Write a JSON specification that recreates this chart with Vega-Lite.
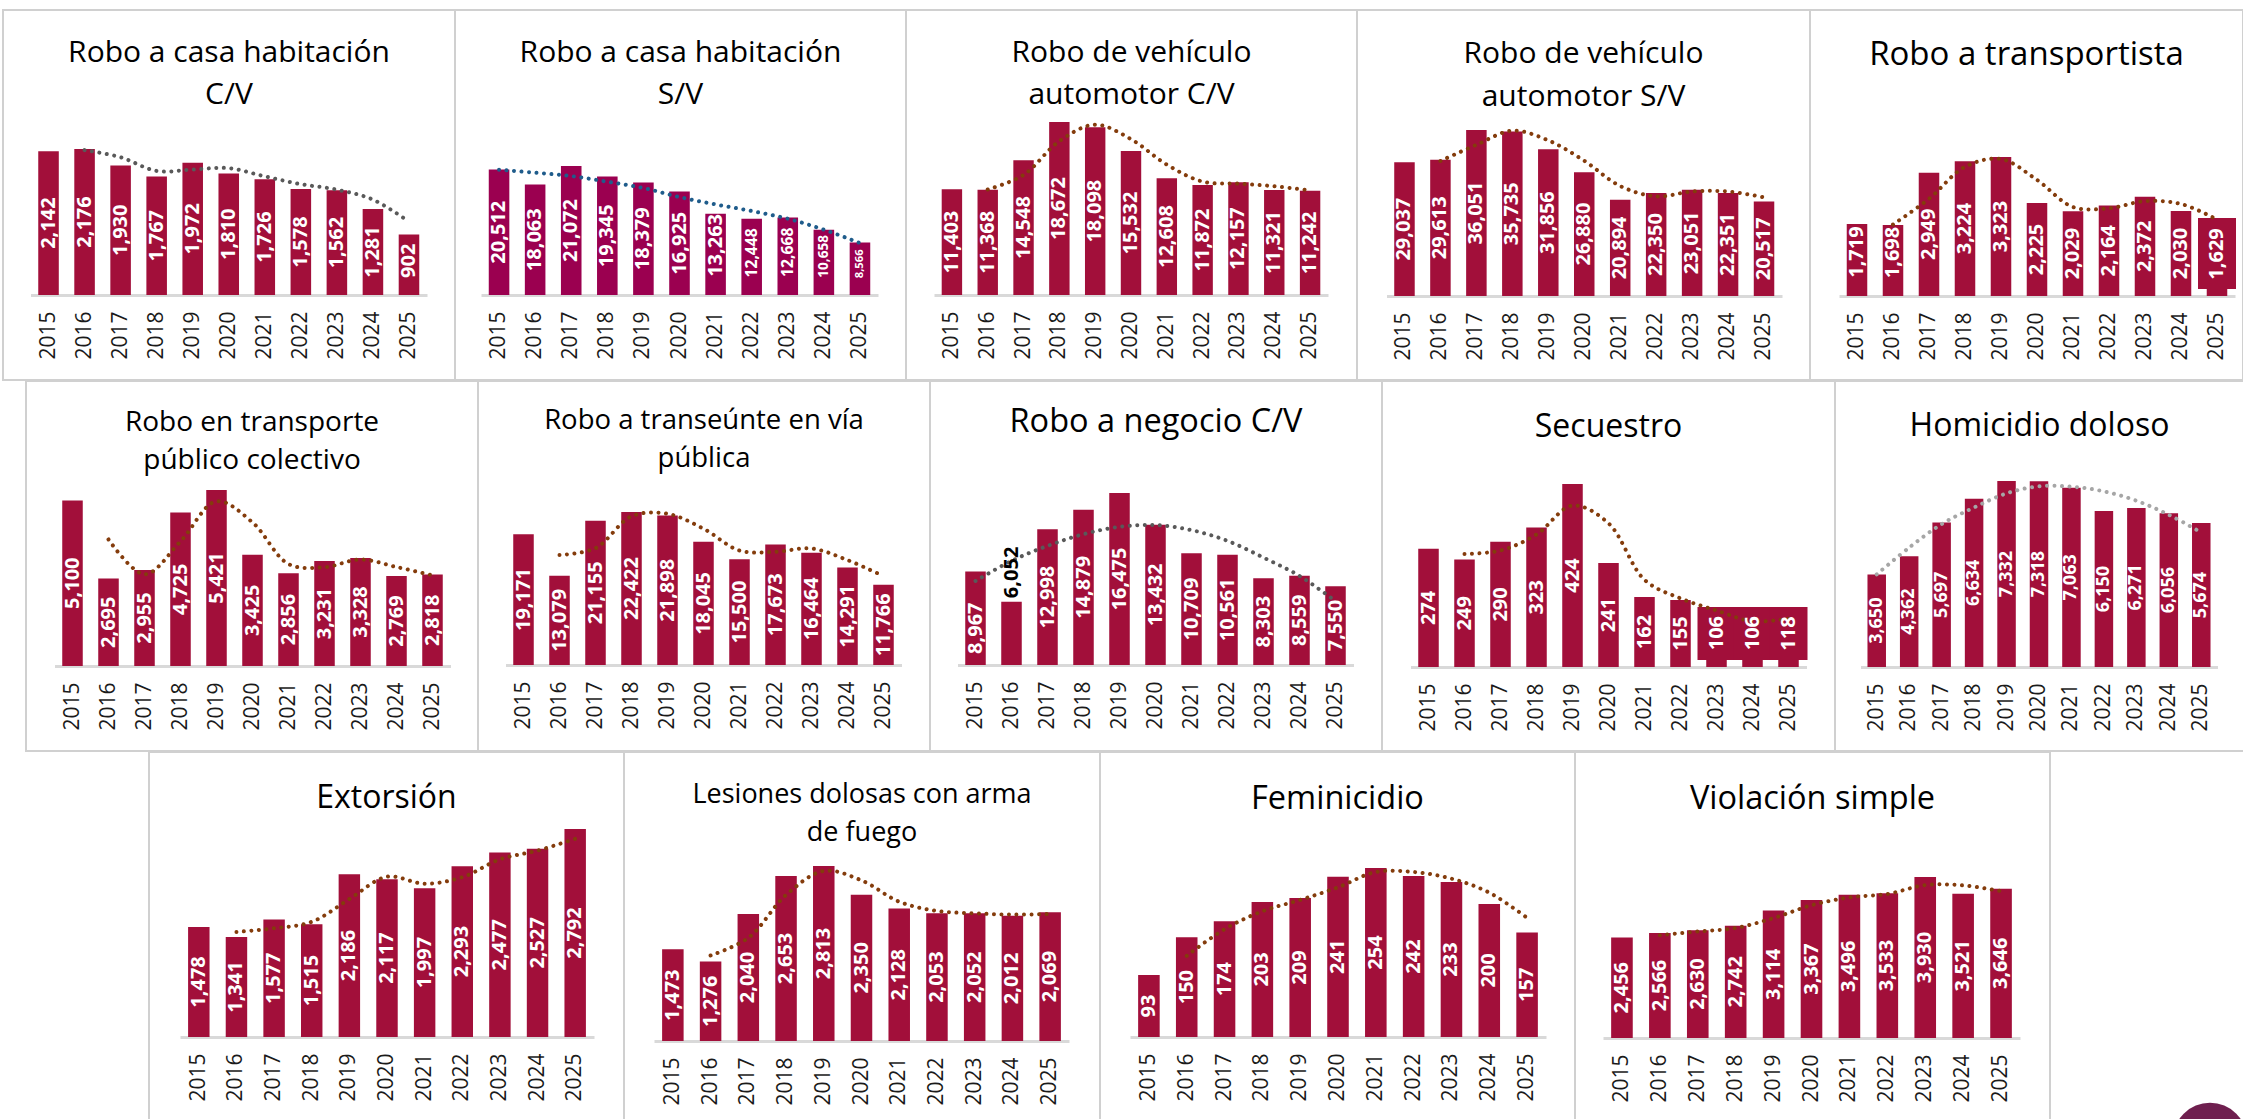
{"$schema":"https://vega.github.io/schema/vega-lite/v6.json","padding":{"left":2,"top":9,"right":0,"bottom":0},"background":"white","spacing":-2,
"config":{"view":{"stroke":"#d0d0d0","strokeWidth":2},"bar":{"color":"#a20f3a"},"line":{"color":"#843c0c","strokeWidth":4,"strokeDash":[0.01,7.5],"strokeCap":"round","interpolate":"catmull-rom"},"text":{"font":"Open Sans","fontWeight":"bold","fontSize":20,"color":"white","angle":270,"align":"center","baseline":"middle"},"title":{"font":"Open Sans","fontWeight":"normal","color":"black","baseline":"alphabetic","anchor":"middle","frame":"group"},"axis":{"title":null,"grid":false,"ticks":false,"domainColor":"#d9d9d9","domainWidth":3,"labelAngle":-90,"labelFont":"Open Sans","labelFontSize":21,"labelColor":"#1a1a1a","labelPadding":16,"labelOverlap":false}},
"datasets":{
"d1":[{"year":2015,"v":2142},{"year":2016,"v":2176,"t":2159},{"year":2017,"v":1930,"t":2053},{"year":2018,"v":1767,"t":1849},{"year":2019,"v":1972,"t":1870},{"year":2020,"v":1810,"t":1891},{"year":2021,"v":1726,"t":1768},{"year":2022,"v":1578,"t":1652},{"year":2023,"v":1562,"t":1570},{"year":2024,"v":1281,"t":1422},{"year":2025,"v":902,"t":1092}],
"d2":[{"year":2015,"v":20512,"t":20470},{"year":2016,"v":18063,"t":19980},{"year":2017,"v":21072,"t":19430},{"year":2018,"v":19345,"t":18500},{"year":2019,"v":18379,"t":17470},{"year":2020,"v":16925,"t":16000},{"year":2021,"v":13263,"t":14800},{"year":2022,"v":12448,"t":13720},{"year":2023,"v":12668,"t":12460},{"year":2024,"v":10658,"t":10670},{"year":2025,"v":8566,"t":8490}],
"d3":[{"year":2015,"v":11403},{"year":2016,"v":11368,"t":11386},{"year":2017,"v":14548,"t":12958},{"year":2018,"v":18672,"t":16610},{"year":2019,"v":18098,"t":18385},{"year":2020,"v":15532,"t":16815},{"year":2021,"v":12608,"t":14070},{"year":2022,"v":11872,"t":12240},{"year":2023,"v":12157,"t":12015},{"year":2024,"v":11321,"t":11739},{"year":2025,"v":11242,"t":11282}],
"d4":[{"year":2015,"v":29037},{"year":2016,"v":29613,"t":29325},{"year":2017,"v":36051,"t":32832},{"year":2018,"v":35735,"t":35893},{"year":2019,"v":31856,"t":33796},{"year":2020,"v":26880,"t":29368},{"year":2021,"v":20894,"t":23887},{"year":2022,"v":22350,"t":21622},{"year":2023,"v":23051,"t":22701},{"year":2024,"v":22351,"t":22701},{"year":2025,"v":20517,"t":21434}],
"d5":[{"year":2015,"v":1719},{"year":2016,"v":1698,"t":1709},{"year":2017,"v":2949,"t":2324},{"year":2018,"v":3224,"t":3087},{"year":2019,"v":3323,"t":3274},{"year":2020,"v":2225,"t":2774},{"year":2021,"v":2029,"t":2127},{"year":2022,"v":2164,"t":2097},{"year":2023,"v":2372,"t":2268},{"year":2024,"v":2030,"t":2201},{"year":2025,"v":1629,"t":1830}],
"d6":[{"year":2015,"v":5100},{"year":2016,"v":2695,"t":3898},{"year":2017,"v":2955,"t":2825},{"year":2018,"v":4725,"t":3840},{"year":2019,"v":5421,"t":5073},{"year":2020,"v":3425,"t":4423},{"year":2021,"v":2856,"t":3141},{"year":2022,"v":3231,"t":3044},{"year":2023,"v":3328,"t":3280},{"year":2024,"v":2769,"t":3049},{"year":2025,"v":2818,"t":2794}],
"d7":[{"year":2015,"v":19171},{"year":2016,"v":13079,"t":16125},{"year":2017,"v":21155,"t":17117},{"year":2018,"v":22422,"t":21789},{"year":2019,"v":21898,"t":22160},{"year":2020,"v":18045,"t":19972},{"year":2021,"v":15500,"t":16773},{"year":2022,"v":17673,"t":16587},{"year":2023,"v":16464,"t":17069},{"year":2024,"v":14291,"t":15378},{"year":2025,"v":11766,"t":13029}],
"d8":[{"year":2015,"v":8967,"t":8045},{"year":2016,"v":6052,"t":9970},{"year":2017,"v":12998,"t":11410},{"year":2018,"v":14879,"t":12530},{"year":2019,"v":16475,"t":13240},{"year":2020,"v":13432,"t":13400},{"year":2021,"v":10709,"t":12920},{"year":2022,"v":10561,"t":11890},{"year":2023,"v":8303,"t":10290},{"year":2024,"v":8559,"t":8530},{"year":2025,"v":7550,"t":6120}],
"d9":[{"year":2015,"v":274},{"year":2016,"v":249,"t":262},{"year":2017,"v":290,"t":270},{"year":2018,"v":323,"t":307},{"year":2019,"v":424,"t":374},{"year":2020,"v":241,"t":333},{"year":2021,"v":162,"t":202},{"year":2022,"v":155,"t":159},{"year":2023,"v":106,"t":131},{"year":2024,"v":106,"t":106},{"year":2025,"v":118,"t":112}],
"d10":[{"year":2015,"v":3650,"t":3653},{"year":2016,"v":4362,"t":4708},{"year":2017,"v":5697,"t":5632},{"year":2018,"v":6634,"t":6290},{"year":2019,"v":7332,"t":6845},{"year":2020,"v":7318,"t":7122},{"year":2021,"v":7063,"t":7108},{"year":2022,"v":6150,"t":6924},{"year":2023,"v":6271,"t":6555},{"year":2024,"v":6056,"t":6001},{"year":2025,"v":5674,"t":5302}],
"d11":[{"year":2015,"v":1478},{"year":2016,"v":1341,"t":1410},{"year":2017,"v":1577,"t":1459},{"year":2018,"v":1515,"t":1546},{"year":2019,"v":2186,"t":1851},{"year":2020,"v":2117,"t":2152},{"year":2021,"v":1997,"t":2057},{"year":2022,"v":2293,"t":2145},{"year":2023,"v":2477,"t":2385},{"year":2024,"v":2527,"t":2502},{"year":2025,"v":2792,"t":2660}],
"d12":[{"year":2015,"v":1473},{"year":2016,"v":1276,"t":1375},{"year":2017,"v":2040,"t":1658},{"year":2018,"v":2653,"t":2347},{"year":2019,"v":2813,"t":2733},{"year":2020,"v":2350,"t":2582},{"year":2021,"v":2128,"t":2239},{"year":2022,"v":2053,"t":2091},{"year":2023,"v":2052,"t":2053},{"year":2024,"v":2012,"t":2032},{"year":2025,"v":2069,"t":2041}],
"d13":[{"year":2015,"v":93},{"year":2016,"v":150,"t":122},{"year":2017,"v":174,"t":162},{"year":2018,"v":203,"t":189},{"year":2019,"v":209,"t":206},{"year":2020,"v":241,"t":225},{"year":2021,"v":254,"t":248},{"year":2022,"v":242,"t":248},{"year":2023,"v":233,"t":238},{"year":2024,"v":200,"t":217},{"year":2025,"v":157,"t":179}],
"d14":[{"year":2015,"v":2456},{"year":2016,"v":2566,"t":2511},{"year":2017,"v":2630,"t":2598},{"year":2018,"v":2742,"t":2686},{"year":2019,"v":3114,"t":2928},{"year":2020,"v":3367,"t":3241},{"year":2021,"v":3496,"t":3432},{"year":2022,"v":3533,"t":3515},{"year":2023,"v":3930,"t":3732},{"year":2024,"v":3521,"t":3726},{"year":2025,"v":3646,"t":3584}]
},
"vconcat":[
{"spacing":0,"bounds":"flush","hconcat":[
{"width":452,"height":370,"title":{"text":["Robo a casa habitación","C/V"],"fontSize":30,"lineHeight":42,"offset":-100},"data":{"name":"d1"},"transform":[{"calculate":"datum.v/2","as":"m"}],"encoding":{"x":{"field":"year","type":"ordinal","scale":{"range":[27.5,424],"paddingInner":0.43,"paddingOuter":0.215},"axis":{"offset":-85}},"y":{"field":"v","type":"quantitative","scale":{"domain":[0,2176],"range":[285,139]},"axis":null}},"layer":[{"mark":"bar"},{"mark":{"type":"line","color":"#595959"},"encoding":{"y":{"field":"t","type":"quantitative"}}},{"transform":[{"filter":"datum.year<2025"}],"mark":"text","encoding":{"y":{"field":"m","type":"quantitative"},"text":{"field":"v","format":","}}},{"transform":[{"filter":"datum.year==2025"}],"mark":{"type":"text","dx":4},"encoding":{"y":{"field":"m","type":"quantitative"},"text":{"field":"v","format":","}}}]},
{"width":451,"height":370,"title":{"text":["Robo a casa habitación","S/V"],"fontSize":30,"lineHeight":42,"offset":-100},"data":{"name":"d2"},"transform":[{"calculate":"datum.v/2","as":"m"}],"encoding":{"x":{"field":"year","type":"ordinal","scale":{"range":[26,423],"paddingInner":0.43,"paddingOuter":0.215},"axis":{"offset":-85}},"y":{"field":"v","type":"quantitative","scale":{"domain":[0,21072],"range":[285,156]},"axis":null}},"layer":[{"mark":{"type":"bar","color":"#9b0050"}},{"mark":{"type":"line","color":"#1f5c8b"},"encoding":{"y":{"field":"t","type":"quantitative"}}},{"transform":[{"filter":"datum.year<2021"}],"mark":"text","encoding":{"y":{"field":"m","type":"quantitative"},"text":{"field":"v","format":","}}},{"transform":[{"filter":"datum.year==2021"}],"mark":{"type":"text","dx":9},"encoding":{"y":{"field":"m","type":"quantitative"},"text":{"field":"v","format":","}}},{"transform":[{"filter":"datum.year==2022||datum.year==2023"}],"mark":{"type":"text","dx":4,"fontSize":15.7},"encoding":{"y":{"field":"m","type":"quantitative"},"text":{"field":"v","format":","}}},{"transform":[{"filter":"datum.year==2024"}],"mark":{"type":"text","dx":6,"fontSize":13.6},"encoding":{"y":{"field":"m","type":"quantitative"},"text":{"field":"v","format":","}}},{"transform":[{"filter":"datum.year==2025"}],"mark":{"type":"text","dx":5,"fontSize":11.3},"encoding":{"y":{"field":"m","type":"quantitative"},"text":{"field":"v","format":","}}}]},
{"width":451,"height":370,"title":{"text":["Robo de vehículo","automotor C/V"],"fontSize":30,"lineHeight":42,"offset":-100},"data":{"name":"d3"},"transform":[{"calculate":"datum.v/2","as":"m"}],"encoding":{"x":{"field":"year","type":"ordinal","scale":{"range":[28,422],"paddingInner":0.43,"paddingOuter":0.215},"axis":{"offset":-85}},"y":{"field":"v","type":"quantitative","scale":{"domain":[0,18672],"range":[285,112]},"axis":null}},"layer":[{"mark":"bar"},{"mark":"line","encoding":{"y":{"field":"t","type":"quantitative"}}},{"mark":"text","encoding":{"y":{"field":"m","type":"quantitative"},"text":{"field":"v","format":","}}}]},
{"width":453,"height":370,"title":{"text":["Robo de vehículo","automotor S/V"],"fontSize":30,"lineHeight":43,"offset":-102},"data":{"name":"d4"},"transform":[{"calculate":"datum.v/2","as":"m"}],"encoding":{"x":{"field":"year","type":"ordinal","scale":{"range":[29.5,425],"paddingInner":0.43,"paddingOuter":0.215},"axis":{"offset":-84}},"y":{"field":"v","type":"quantitative","scale":{"domain":[0,36051],"range":[286,120]},"axis":null}},"layer":[{"mark":"bar"},{"mark":"line","encoding":{"y":{"field":"t","type":"quantitative"}}},{"mark":"text","encoding":{"y":{"field":"m","type":"quantitative"},"text":{"field":"v","format":","}}}]},
{"width":433,"height":370,"title":{"text":"Robo a transportista","fontSize":33,"offset":-62},"data":{"name":"d5"},"transform":[{"calculate":"datum.v/2","as":"m"}],"encoding":{"x":{"field":"year","type":"ordinal","scale":{"range":[29,425],"paddingInner":0.43,"paddingOuter":0.215},"axis":{"offset":-84}},"y":{"field":"v","type":"quantitative","scale":{"domain":[0,3323],"range":[286,147]},"axis":null}},"layer":[{"mark":"bar"},{"data":{"values":[{"year":2025,"lo":167,"hi":1865}]},"mark":{"type":"bar","size":38},"encoding":{"y":{"field":"lo","type":"quantitative"},"y2":{"field":"hi"}}},{"mark":"line","encoding":{"y":{"field":"t","type":"quantitative"}}},{"transform":[{"filter":"datum.year>2016&&datum.year<2025"}],"mark":"text","encoding":{"y":{"field":"m","type":"quantitative"},"text":{"field":"v","format":","}}},{"transform":[{"filter":"datum.year<=2016||datum.year==2025"}],"mark":{"type":"text","dx":8},"encoding":{"y":{"field":"m","type":"quantitative"},"text":{"field":"v","format":","}}}]}
]},
{"spacing":0,"bounds":"flush","hconcat":[
{"width":22.5,"height":370,"view":{"stroke":null},"data":{"values":[]},"mark":"rect","encoding":{}},
{"width":452,"height":370,"title":{"text":["Robo en transporte","público colectivo"],"fontSize":28,"lineHeight":38,"offset":-94},"data":{"name":"d6"},"transform":[{"calculate":"datum.v/2","as":"m"}],"encoding":{"x":{"field":"year","type":"ordinal","scale":{"range":[28.5,424.5],"paddingInner":0.43,"paddingOuter":0.215},"axis":{"offset":-85}},"y":{"field":"v","type":"quantitative","scale":{"domain":[0,5421],"range":[285,109]},"axis":null}},"layer":[{"mark":"bar"},{"mark":"line","encoding":{"y":{"field":"t","type":"quantitative"}}},{"mark":"text","encoding":{"y":{"field":"m","type":"quantitative"},"text":{"field":"v","format":","}}}]},
{"width":452,"height":370,"title":{"text":["Robo a transeúnte en vía","pública"],"fontSize":27.5,"lineHeight":38,"offset":-91},"data":{"name":"d7"},"transform":[{"calculate":"datum.v/2","as":"m"}],"encoding":{"x":{"field":"year","type":"ordinal","scale":{"range":[27.5,423.5],"paddingInner":0.43,"paddingOuter":0.215},"axis":{"offset":-86}},"y":{"field":"v","type":"quantitative","scale":{"domain":[0,22422],"range":[284,131]},"axis":null}},"layer":[{"mark":"bar"},{"mark":"line","encoding":{"y":{"field":"t","type":"quantitative"}}},{"mark":"text","encoding":{"y":{"field":"m","type":"quantitative"},"text":{"field":"v","format":","}}}]},
{"width":452,"height":370,"title":{"text":"Robo a negocio C/V","fontSize":32.5,"offset":-57},"data":{"name":"d8"},"transform":[{"calculate":"datum.v/2","as":"m"}],"encoding":{"x":{"field":"year","type":"ordinal","scale":{"range":[27.5,423.5],"paddingInner":0.43,"paddingOuter":0.215},"axis":{"offset":-86}},"y":{"field":"v","type":"quantitative","scale":{"domain":[0,16475],"range":[284,112]},"axis":null}},"layer":[{"mark":"bar"},{"mark":{"type":"line","color":"#595959"},"encoding":{"y":{"field":"t","type":"quantitative"}}},{"transform":[{"filter":"datum.year>2016"}],"mark":"text","encoding":{"y":{"field":"m","type":"quantitative"},"text":{"field":"v","format":","}}},{"transform":[{"filter":"datum.year==2015"}],"mark":{"type":"text","dx":-10},"encoding":{"y":{"field":"m","type":"quantitative"},"text":{"field":"v","format":","}}},{"transform":[{"filter":"datum.year==2016"}],"mark":{"type":"text","dx":61,"color":"black"},"encoding":{"y":{"field":"m","type":"quantitative"},"text":{"field":"v","format":","}}}]},
{"width":453,"height":370,"title":{"text":"Secuestro","fontSize":32,"offset":-63},"data":{"name":"d9"},"transform":[{"calculate":"datum.v/2","as":"m"}],"encoding":{"x":{"field":"year","type":"ordinal","scale":{"range":[28.5,424.5],"paddingInner":0.43,"paddingOuter":0.215},"axis":{"offset":-84}},"y":{"field":"v","type":"quantitative","scale":{"domain":[0,424],"range":[286,103]},"axis":null}},"layer":[{"mark":"bar"},{"data":{"values":[{"year":2023,"lo":16,"hi":139},{"year":2024,"lo":16,"hi":139},{"year":2025,"lo":16,"hi":139}]},"mark":{"type":"bar","size":38},"encoding":{"y":{"field":"lo","type":"quantitative"},"y2":{"field":"hi"}}},{"mark":"line","encoding":{"y":{"field":"t","type":"quantitative"}}},{"transform":[{"filter":"datum.year<2023"}],"mark":"text","encoding":{"y":{"field":"m","type":"quantitative"},"text":{"field":"v","format":","}}},{"transform":[{"filter":"datum.year==2023||datum.year==2024"}],"mark":{"type":"text","dx":11},"encoding":{"y":{"field":"m","type":"quantitative"},"text":{"field":"v","format":","}}},{"transform":[{"filter":"datum.year==2025"}],"mark":{"type":"text","dx":8},"encoding":{"y":{"field":"m","type":"quantitative"},"text":{"field":"v","format":","}}}]},
{"width":409,"height":370,"title":{"text":"Homicidio doloso","fontSize":32,"offset":-62},"data":{"name":"d10"},"transform":[{"calculate":"datum.v/2","as":"m"}],"encoding":{"x":{"field":"year","type":"ordinal","scale":{"range":[25.5,382.5],"paddingInner":0.43,"paddingOuter":0.215},"axis":{"offset":-84}},"y":{"field":"v","type":"quantitative","scale":{"domain":[0,7332],"range":[286,100]},"axis":null}},"layer":[{"mark":"bar"},{"mark":{"type":"line","color":"#a6a6a6"},"encoding":{"y":{"field":"t","type":"quantitative"}}},{"mark":{"type":"text","fontSize":18},"encoding":{"y":{"field":"m","type":"quantitative"},"text":{"field":"v","format":","}}}]}
]},
{"spacing":0,"bounds":"flush","hconcat":[
{"width":146,"height":370,"view":{"stroke":null},"data":{"values":[]},"mark":"rect","encoding":{}},
{"width":475,"height":370,"title":{"text":"Extorsión","fontSize":32,"offset":-63},"data":{"name":"d11"},"transform":[{"calculate":"datum.v/2","as":"m"}],"encoding":{"x":{"field":"year","type":"ordinal","scale":{"range":[31,445],"paddingInner":0.43,"paddingOuter":0.215},"axis":{"offset":-85}},"y":{"field":"v","type":"quantitative","scale":{"domain":[0,2792],"range":[285,77]},"axis":null}},"layer":[{"mark":"bar"},{"mark":"line","encoding":{"y":{"field":"t","type":"quantitative"}}},{"mark":"text","encoding":{"y":{"field":"m","type":"quantitative"},"text":{"field":"v","format":","}}}]},
{"width":476,"height":370,"title":{"text":["Lesiones dolosas con arma","de fuego"],"fontSize":27,"lineHeight":38,"offset":-95},"data":{"name":"d12"},"transform":[{"calculate":"datum.v/2","as":"m"}],"encoding":{"x":{"field":"year","type":"ordinal","scale":{"range":[30,445],"paddingInner":0.43,"paddingOuter":0.215},"axis":{"offset":-81}},"y":{"field":"v","type":"quantitative","scale":{"domain":[0,2813],"range":[289,114]},"axis":null}},"layer":[{"mark":"bar"},{"mark":"line","encoding":{"y":{"field":"t","type":"quantitative"}}},{"mark":"text","encoding":{"y":{"field":"m","type":"quantitative"},"text":{"field":"v","format":","}}}]},
{"width":475,"height":370,"title":{"text":"Feminicidio","fontSize":32.5,"offset":-63},"data":{"name":"d13"},"transform":[{"calculate":"datum.v/2","as":"m"}],"encoding":{"x":{"field":"year","type":"ordinal","scale":{"range":[30,446],"paddingInner":0.43,"paddingOuter":0.215},"axis":{"offset":-85}},"y":{"field":"v","type":"quantitative","scale":{"domain":[0,254],"range":[285,116]},"axis":null}},"layer":[{"mark":"bar"},{"mark":"line","encoding":{"y":{"field":"t","type":"quantitative"}}},{"mark":"text","encoding":{"y":{"field":"m","type":"quantitative"},"text":{"field":"v","format":","}}}]},
{"width":475,"height":370,"title":{"text":"Violación simple","fontSize":32.5,"offset":-63},"data":{"name":"d14"},"transform":[{"calculate":"datum.v/2","as":"m"}],"encoding":{"x":{"field":"year","type":"ordinal","scale":{"range":[28,445],"paddingInner":0.43,"paddingOuter":0.215},"axis":{"offset":-84}},"y":{"field":"v","type":"quantitative","scale":{"domain":[0,3930],"range":[286,125]},"axis":null}},"layer":[{"mark":"bar"},{"mark":"line","encoding":{"y":{"field":"t","type":"quantitative"}}},{"mark":"text","encoding":{"y":{"field":"m","type":"quantitative"},"text":{"field":"v","format":","}}}]},
{"width":193,"height":370,"view":{"stroke":null},"data":{"values":[{"a":160,"b":-18}]},"mark":{"type":"point","filled":true,"size":5542,"opacity":1,"color":"#6f1f4f","clip":true},"encoding":{"x":{"field":"a","type":"quantitative","scale":{"domain":[0,193],"range":[0,193]},"axis":null},"y":{"field":"b","type":"quantitative","scale":{"domain":[0,370],"range":[370,0]},"axis":null}}}
]}
]}
